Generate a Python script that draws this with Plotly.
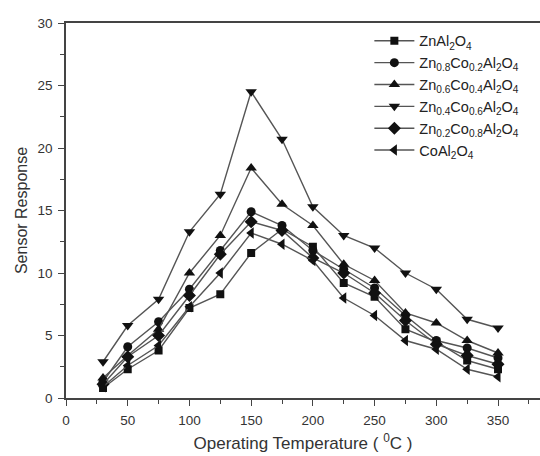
import plotly.graph_objects as go

temps = [30, 50, 75, 100, 125, 150, 175, 200, 225, 250, 275, 300, 325, 350]

znal = [0.8, 2.3, 3.8, 7.2, 8.3, 11.6, 13.5, 12.1, 9.2, 8.1, 5.5, 4.5, 3.0, 2.3]
zn08 = [1.3, 4.1, 6.1, 8.7, 11.8, 14.9, 13.8, 11.8, 10.3, 8.8, 6.6, 4.6, 4.0, 3.2]
zn06 = [1.6, 3.4, 5.5, 10.0, 13.0, 18.4, 15.5, 13.8, 10.7, 9.4, 6.8, 6.0, 4.6, 3.6]
zn04 = [2.9, 5.8, 7.9, 13.3, 16.3, 24.5, 20.7, 15.3, 13.0, 12.0, 10.0, 8.7, 6.3, 5.6]
zn02 = [1.1, 3.3, 5.0, 8.2, 11.5, 14.1, 13.4, 11.2, 10.0, 8.4, 6.2, 4.3, 3.4, 2.7]
coal = [0.9, 2.6, 4.2, 7.3, 10.0, 13.2, 12.3, 11.0, 8.0, 6.6, 4.6, 3.9, 2.3, 1.7]

names = [
    "ZnAl<sub>2</sub>O<sub>4</sub>",
    "Zn<sub>0.8</sub>Co<sub>0.2</sub>Al<sub>2</sub>O<sub>4</sub>",
    "Zn<sub>0.6</sub>Co<sub>0.4</sub>Al<sub>2</sub>O<sub>4</sub>",
    "Zn<sub>0.4</sub>Co<sub>0.6</sub>Al<sub>2</sub>O<sub>4</sub>",
    "Zn<sub>0.2</sub>Co<sub>0.8</sub>Al<sub>2</sub>O<sub>4</sub>",
    "CoAl<sub>2</sub>O<sub>4</sub>",
]
series = [znal, zn08, zn06, zn04, zn02, coal]
symbols = ["square", "circle", "triangle-up", "triangle-down", "diamond", "triangle-left"]
sizes = [8, 9, 10, 10, 10, 10]

fig = go.Figure()
for nm, ys, sym, sz in zip(names, series, symbols, sizes):
    fig.add_trace(go.Scatter(
        x=temps, y=ys, name=nm, mode="lines+markers",
        line=dict(color="#555555", width=1.4),
        marker=dict(symbol=sym, size=sz, color="#111111"),
    ))

axis_font = dict(family="Liberation Sans, Arial, sans-serif", size=13.5, color="#333333")
fig.update_layout(
    width=540, height=456,
    margin=dict(l=66, r=0, t=23, b=58),
    paper_bgcolor="white", plot_bgcolor="white",
    font=dict(family="Liberation Sans, Arial, sans-serif", color="#222222"),
    showlegend=True,
    legend=dict(x=0.64, y=0.995, xanchor="left", yanchor="top",
                bgcolor="rgba(0,0,0,0)", font=dict(size=14.5, color="#222222"),
                tracegroupgap=0, itemwidth=40),
    xaxis=dict(range=[0, 384], tickmode="linear", tick0=0, dtick=50,
               showgrid=False, zeroline=False, showline=True, linecolor="#444444",
               linewidth=1.5, mirror=True, ticks="outside", ticklen=6, tickcolor="#444444",
               minor=dict(ticks="outside", ticklen=4, dtick=25, tick0=0, tickcolor="#444444"),
               tickfont=axis_font, ticklabelstandoff=3,
               title=dict(text="Operating Temperature ( <sup>0</sup>C )",
                          font=dict(size=17, color="#333333"), standoff=10)),
    yaxis=dict(range=[0, 30], tickmode="linear", tick0=0, dtick=5,
               showgrid=False, zeroline=False, showline=True, linecolor="#444444",
               linewidth=1.5, mirror=False, ticks="outside", ticklen=6, tickcolor="#444444",
               minor=dict(ticks="outside", ticklen=4, dtick=2.5, tick0=0, tickcolor="#444444"),
               tickfont=axis_font, ticklabelstandoff=3,
               title=dict(text="Sensor Response", font=dict(size=16, color="#333333"), standoff=6)),
)

fig.write_html("out.html")
